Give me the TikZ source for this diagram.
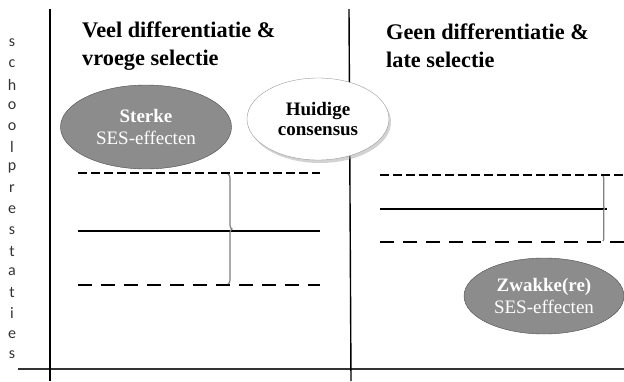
\documentclass[tikz,border=0pt]{standalone}
\usepackage{fontspec}
\setmainfont{Liberation Serif}
\newfontfamily\labelfont{Carlito}
\usetikzlibrary{shapes.geometric,shadows,decorations.pathreplacing}

\begin{document}
\begin{tikzpicture}[x=1pt,y=-1pt,every node/.style={inner sep=0pt}]
	\tikzstyle{axis}=[line width=1.3pt,black!80]
	\tikzstyle{divider}=[line width=1.4pt,black]
	\tikzstyle{level}=[line width=2.3pt,black]
	\tikzstyle{dense}=[level,dash pattern=on 9pt off 4pt]
	\tikzstyle{loose}=[level,dash pattern=on 14pt off 9pt]
	\tikzstyle{spread}=[gray,line width=1.2pt]
	\tikzstyle{title}=[anchor=west,align=left,font=\fontsize{22.3}{28}\selectfont\bfseries]
	\tikzstyle{effect}=[ellipse,draw=black!70,fill=black!45,text=white,align=center,font=\fontsize{19}{22}\selectfont]
	\tikzstyle{letter}=[font=\labelfont\fontsize{16}{16}\selectfont,black!80]
	\useasboundingbox (0,0) rectangle (624,381);
	% axes and columns
	\coordinate (ax0) at (18,369);
	\coordinate (ax1) at (624,369);
	\coordinate (lt) at (50,9);
	\coordinate (lb) at (50,381);
	\coordinate (mt) at (349,9);
	\coordinate (mb) at (351,381);
	\draw[axis] (ax0) -- (ax1);
	\draw[divider] (lt) -- (lb);
	\draw[divider] (mt) -- (mb);
	% vertical label
	\foreach \l [count=\i] in {s,c,h,o,o,l,p,r,e,s,t,a,t,i,e,s}
	    \node[letter] (let\i) at (12,{43+20.8*(\i-1)}) {\l};
	% titles
	\node[title] (veel) at (82,46) {Veel differentiatie \&\\vroege selectie};
	\node[title] (geen) at (386,46) {Geen differentiatie \&\\late selectie};
	% effects
	\node[effect,minimum width=171pt,minimum height=84pt] (sterke) at (146,127) {\textbf{Sterke}\\SES-effecten};
	\node[ellipse,draw=black!40,fill=white,drop shadow={shadow xshift=2pt,shadow yshift=-3pt,fill=black!35},
	    minimum width=142pt,minimum height=82pt,align=center,font=\fontsize{19}{20}\selectfont\bfseries] (consensus) at (318,119) {Huidige\\consensus};
	\node[effect,minimum width=160pt,minimum height=76pt] (zwak) at (544,296) {\textbf{Zwakke(re)}\\SES-effecten};
	% left: wide spread
	\coordinate (lh0) at (78,173); \coordinate (lh1) at (320,173);
	\coordinate (lm0) at (78,231); \coordinate (lm1) at (320,231);
	\coordinate (ll0) at (78,285); \coordinate (ll1) at (320,285);
	\draw[dense] (lh0) -- (lh1);
	\draw[level] (lm0) -- (lm1);
	\draw[loose] (ll0) -- (ll1);
	\draw[spread,decorate,decoration={brace,amplitude=4pt}] (228,174) -- (228,284);
	% right: narrow spread
	\coordinate (rh0) at (380,175); \coordinate (rh1) at (624,175);
	\coordinate (rm0) at (380,209); \coordinate (rm1) at (607,209);
	\coordinate (rl0) at (380,242); \coordinate (rl1) at (624,242);
	\draw[dense] (rh0) -- (rh1);
	\draw[level] (rm0) -- (rm1);
	\draw[loose] (rl0) -- (rl1);
	\draw[spread,decorate,decoration={brace,amplitude=1.5pt}] (603,176) -- (603,241);
\end{tikzpicture}
\end{document}
